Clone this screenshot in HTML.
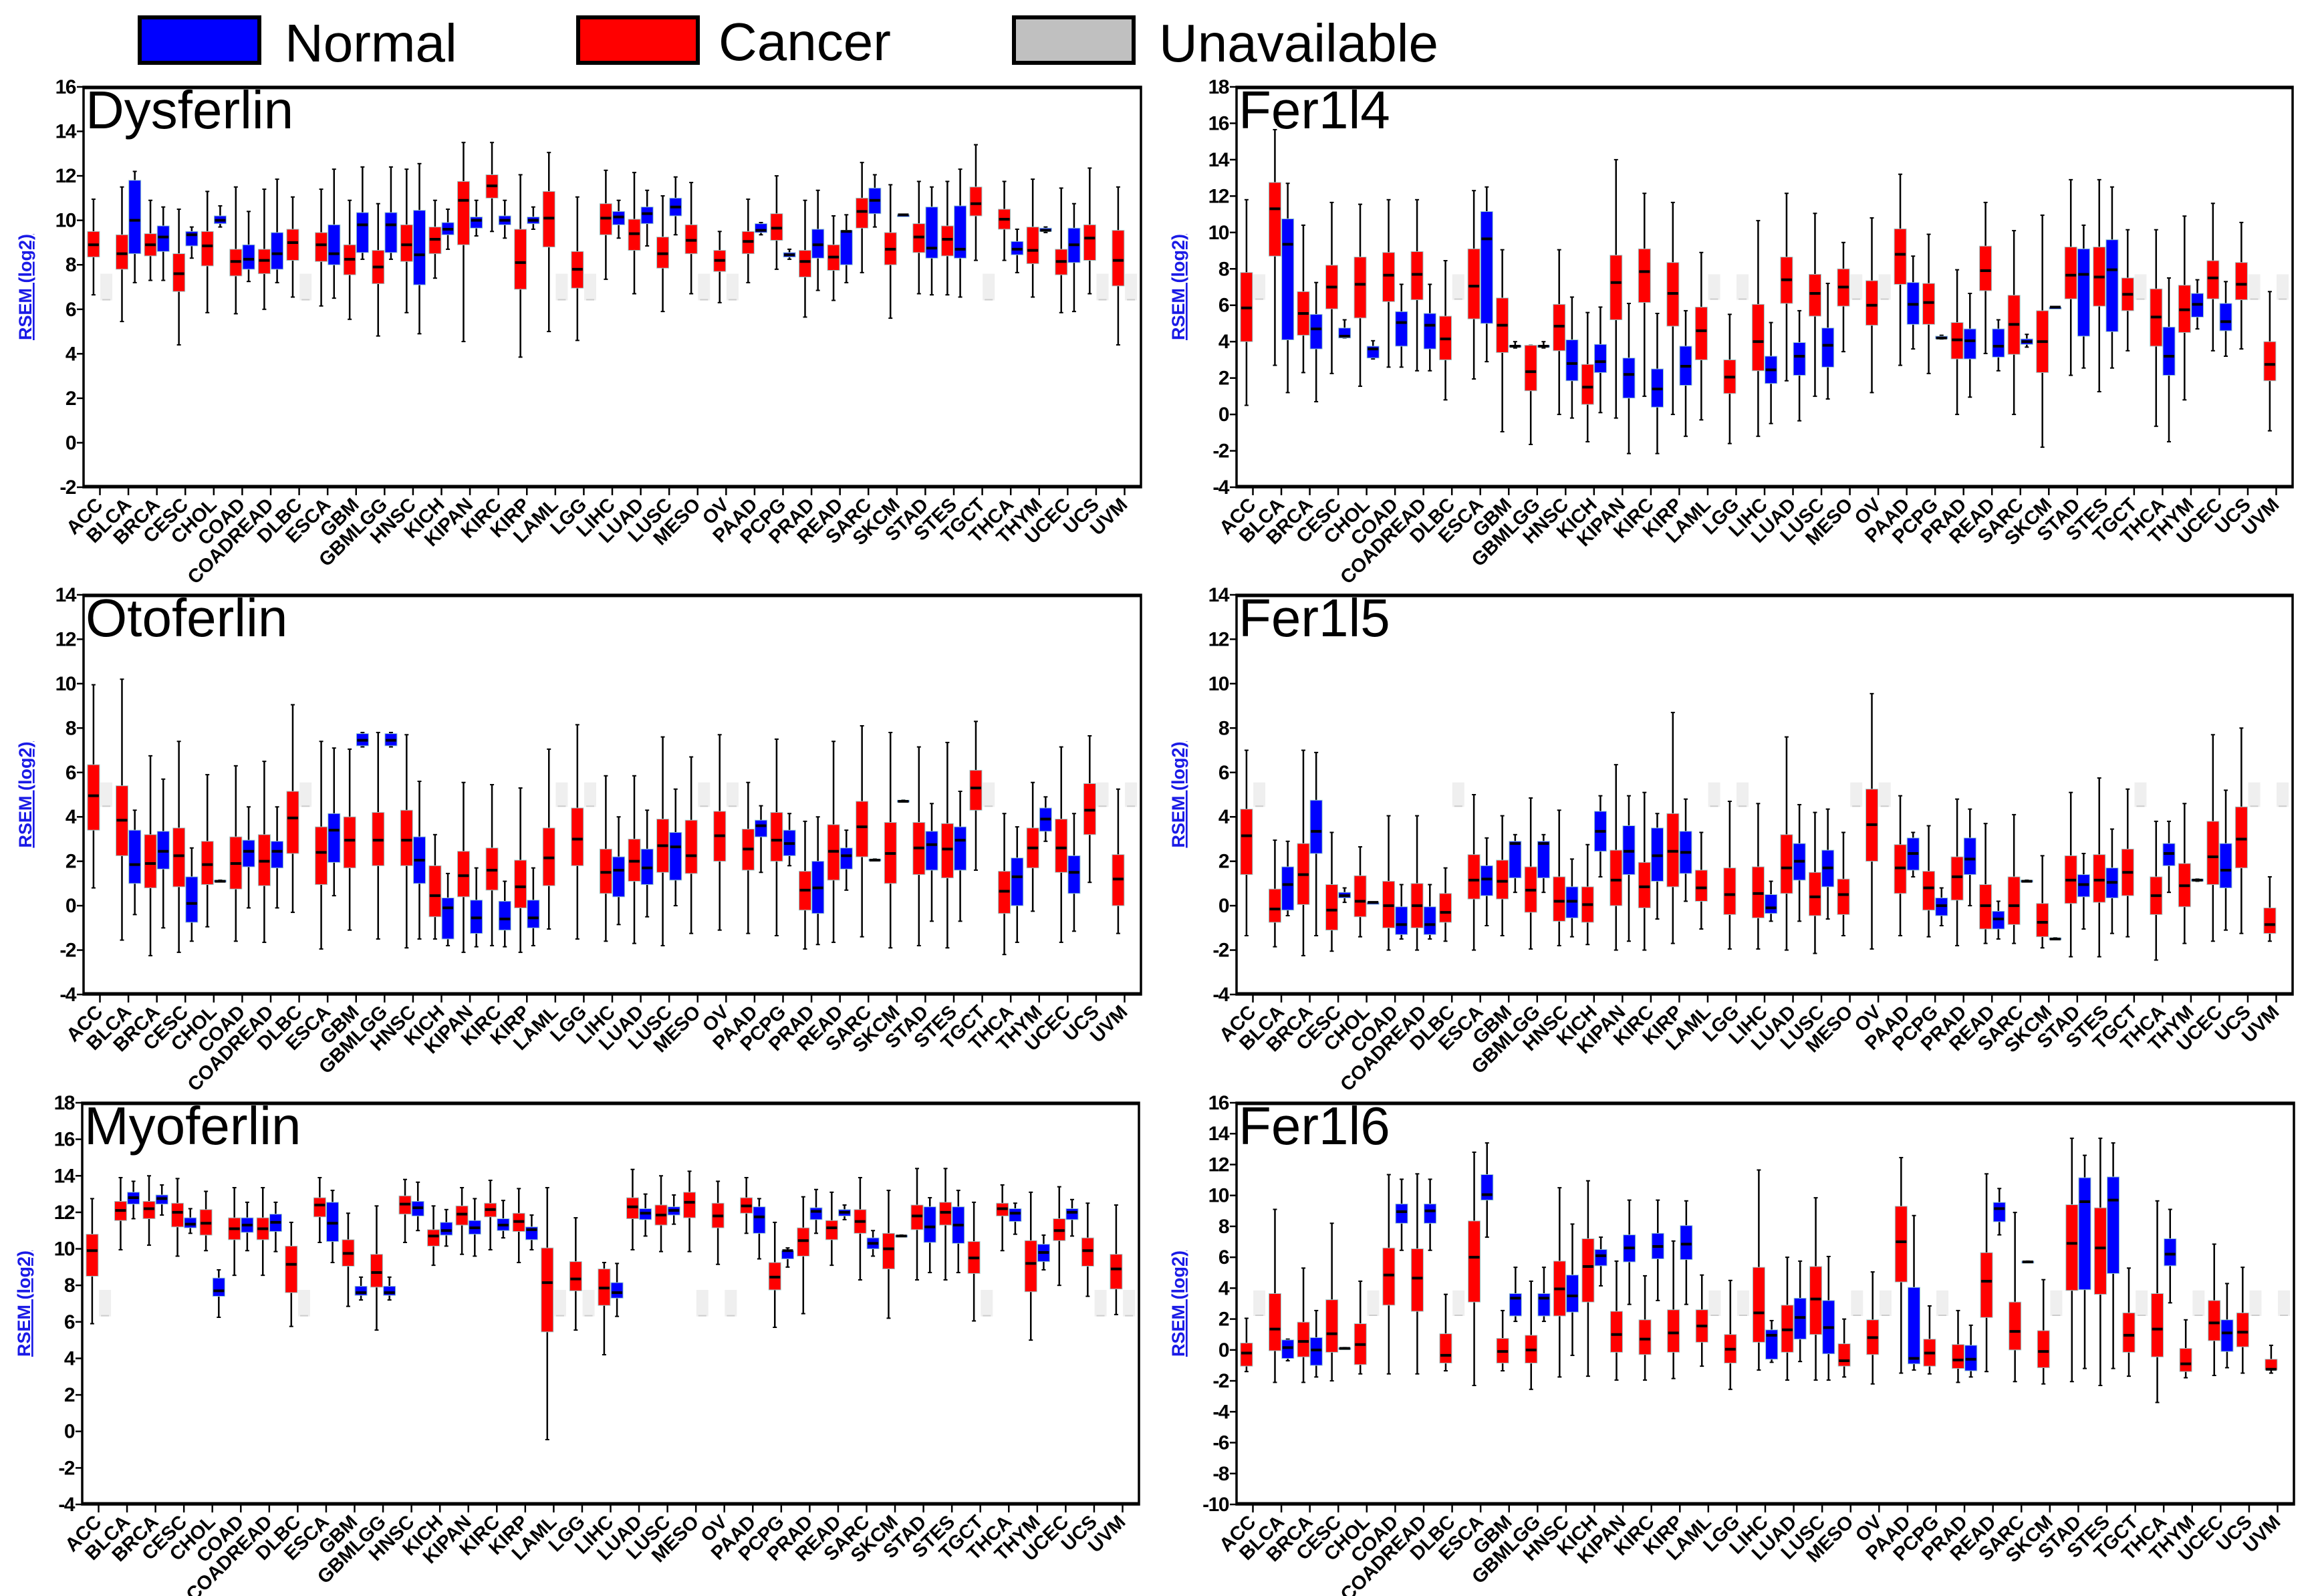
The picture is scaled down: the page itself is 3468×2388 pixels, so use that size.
<!DOCTYPE html>
<html><head><meta charset="utf-8">
<style>
html,body{margin:0;padding:0;background:#fff;}
svg{display:block;}
text{font-family:"Liberation Sans",Arial,sans-serif;}
</style></head>
<body>
<svg id="fig" xmlns="http://www.w3.org/2000/svg" width="3468" height="2388" viewBox="0 0 3468 2388">
  <g>
    <g>
      <rect x="209" y="26" width="179" height="68" fill="#0000ff" stroke="#000" stroke-width="6"/>
      <text x="426" y="92" font-size="80">Normal</text>
    </g>
    <g>
      <rect x="865" y="26" width="179" height="68" fill="#ff0000" stroke="#000" stroke-width="6"/>
      <text x="1075" y="90" font-size="80">Cancer</text>
    </g>
    <g>
      <rect x="1517" y="26" width="179" height="68" fill="#c0c0c0" stroke="#000" stroke-width="6"/>
      <text x="1734" y="92" font-size="80">Unavailable</text>
    </g>
  </g>
</svg>
<script>
const categories = ["ACC","BLCA","BRCA","CESC","CHOL","COAD","COADREAD","DLBC","ESCA","GBM","GBMLGG","HNSC","KICH","KIPAN","KIRC","KIRP","LAML","LGG","LIHC","LUAD","LUSC","MESO","OV","PAAD","PCPG","PRAD","READ","SARC","SKCM","STAD","STES","TGCT","THCA","THYM","UCEC","UCS","UVM"];

// each box: [whiskerLow, q1, median, q3, whiskerHigh]; 0 = unavailable, null = none
const dysferlinCancer = [[6.65,8.35,8.9,9.5,10.95],[5.45,7.8,8.5,9.35,11.5],[7.3,8.4,8.9,9.4,10.9],[4.4,6.8,7.6,8.5,10.5],[5.85,7.95,8.85,9.5,11.3],[5.8,7.5,8.15,8.7,11.5],[6.0,7.6,8.2,8.7,11.4],[6.55,8.2,9.0,9.6,11.05],[6.15,8.15,8.9,9.45,11.4],[5.55,7.55,8.25,8.9,10.9],[4.8,7.15,7.9,8.65,10.75],[5.85,8.15,8.9,9.8,12.3],[7.4,8.5,9.15,9.7,10.9],[4.55,8.9,10.9,11.75,13.5],[9.5,11.0,11.55,12.05,13.5],[3.85,6.9,8.1,9.6,12.05],[5.0,8.8,10.1,11.3,13.05],[4.6,6.95,7.8,8.6,11.05],[7.35,9.35,10.1,10.75,12.25],[6.7,8.65,9.4,10.05,12.15],[5.9,7.85,8.5,9.25,11.1],[6.7,8.5,9.1,9.8,11.7],[6.3,7.7,8.2,8.65,9.5],[7.2,8.5,9.05,9.5,10.95],[7.8,9.1,9.65,10.3,12.0],[5.65,7.45,8.15,8.65,10.9],[6.4,7.75,8.35,8.9,10.2],[7.65,9.65,10.4,11.0,12.6],[5.6,8.0,8.7,9.45,11.6],[6.7,8.55,9.25,9.85,11.75],[6.65,8.4,9.15,9.75,11.75],[8.2,10.2,10.75,11.5,13.4],[8.2,9.6,10.05,10.5,11.75],[6.55,8.05,8.65,9.7,11.85],[5.85,7.55,8.15,8.7,11.45],[6.7,8.2,9.2,9.8,12.35],[4.4,7.05,8.2,9.55,11.5]];
const dysferlinNormal = [0,[7.2,8.5,10.0,11.8,12.2],[7.3,8.6,9.25,9.75,10.6],[8.3,8.85,9.35,9.5,9.7],[9.7,9.85,10.0,10.2,10.65],[7.25,7.8,8.25,8.9,10.4],[7.2,7.8,8.5,9.45,11.85],0,[6.5,8.0,8.5,9.8,12.3],[8.25,8.55,9.8,10.35,12.4],[8.25,8.55,9.8,10.35,12.4],[4.9,7.1,8.45,10.45,12.55],[8.7,9.35,9.6,9.9,10.5],[9.3,9.65,10.0,10.15,10.9],[9.2,9.8,10.0,10.2,10.9],[9.6,9.85,10.0,10.15,10.6],0,0,[9.2,9.8,10.15,10.4,10.9],[8.85,9.85,10.3,10.6,11.35],[9.35,10.2,10.6,11.0,11.95],0,0,[9.35,9.45,9.55,9.85,9.9],[8.25,8.35,8.45,8.55,8.7],[6.85,8.3,8.9,9.6,11.35],[7.2,8.0,9.5,9.55,10.25],[9.7,10.3,10.9,11.45,12.05],[10.25,10.25,10.25,10.25,10.25],[6.65,8.3,8.75,10.6,11.5],[6.55,8.3,8.7,10.65,12.3],0,[7.65,8.45,8.7,9.05,9.6],[9.45,9.5,9.55,9.65,9.7],[5.9,8.1,8.9,9.65,10.75],0,0];

const fer1l4Cancer = [[0.5,4.0,5.85,7.8,11.8],[2.7,8.7,11.3,12.75,15.65],[2.3,4.35,5.55,6.75,10.4],[2.25,5.8,7.0,8.2,11.65],[1.55,5.3,7.15,8.65,11.55],[2.6,6.2,7.65,8.9,11.8],[2.4,6.3,7.7,8.95,11.8],[0.8,3.0,4.15,5.4,8.45],[1.95,5.25,7.05,9.1,12.3],[-0.95,3.4,4.9,6.4,9.05],[-1.65,1.3,2.35,3.8,3.8],[0.0,3.5,4.85,6.05,9.05],[-1.5,0.55,1.5,2.75,5.6],[-0.2,5.2,7.25,8.75,14.0],[1.0,6.15,7.85,9.1,12.15],[0.0,4.85,6.65,8.35,11.65],[-0.3,3.0,4.6,5.9,8.9],[-1.6,1.15,2.05,3.0,5.5],[-1.2,2.4,4.0,6.05,10.65],[1.85,6.1,7.4,8.65,12.15],[1.0,5.4,6.65,7.7,11.05],[3.45,5.95,7.0,8.0,9.45],[1.2,4.9,6.0,7.35,10.8],[2.7,7.15,8.8,10.2,13.2],[2.25,4.95,6.15,7.2,9.9],[0.0,3.05,4.1,5.05,7.95],[3.35,6.8,7.9,9.25,11.65],[0.0,3.3,4.95,6.55,10.1],[-1.8,2.3,4.0,5.7,10.95],[2.15,6.35,7.65,9.2,12.9],[1.25,5.95,7.55,9.2,12.9],[3.5,5.7,6.6,7.5,10.15],[-0.65,3.75,5.35,6.9,10.15],[0.8,4.5,5.75,7.1,10.9],[3.5,6.35,7.5,8.45,11.6],[3.6,6.3,7.15,8.35,10.55],[-0.9,1.85,2.75,4.0,6.75]];
const fer1l4Normal = [0,[1.2,4.1,9.35,10.75,12.7],[0.7,3.6,4.7,5.5,7.25],[4.2,4.2,4.3,4.75,5.2],[3.05,3.1,3.6,3.75,4.05],[2.6,3.75,5.05,5.65,7.15],[2.4,3.6,4.9,5.55,7.15],0,[2.9,5.0,9.65,11.15,12.5],[3.65,3.7,3.75,3.8,4.0],[3.65,3.7,3.75,3.8,4.0],[-0.2,1.85,2.8,4.1,6.45],[0.1,2.3,2.9,3.85,5.9],[-2.15,0.9,2.2,3.1,6.1],[-2.15,0.4,1.4,2.5,5.55],[-1.2,1.6,2.65,3.75,5.7],0,0,[-0.5,1.7,2.45,3.2,5.05],[-0.35,2.15,3.2,3.95,5.7],[0.85,2.6,3.8,4.75,7.2],0,0,[3.6,4.95,6.05,7.25,8.7],[4.15,4.15,4.2,4.3,4.35],[0.95,3.05,4.05,4.7,6.65],[2.4,3.15,3.75,4.7,5.2],[3.7,3.85,4.0,4.15,4.4],[5.9,5.9,5.9,5.9,5.9],[2.55,4.3,7.7,9.1,10.4],[2.55,4.55,7.95,9.6,12.5],0,[-1.5,2.15,3.2,4.8,7.5],[4.7,5.35,6.05,6.65,7.4],[3.2,4.6,5.1,6.1,7.3],0,0];

const otoferlinCancer = [[0.8,3.4,4.95,6.35,9.95],[-1.55,2.25,3.85,5.4,10.2],[-2.25,0.8,1.9,3.2,6.75],[-2.1,0.85,2.25,3.5,7.4],[-0.95,0.95,1.85,2.9,5.9],[-1.6,0.75,1.9,3.1,6.3],[-1.65,0.9,2.0,3.2,6.5],[-0.3,2.35,3.95,5.15,9.05],[-1.95,0.95,2.4,3.55,7.4],[-1.1,1.7,2.95,4.0,7.05],[-1.5,1.8,2.95,4.2,7.8],[-1.9,1.8,2.95,4.3,7.7],[-1.5,-0.5,0.45,1.8,3.2],[-2.1,0.4,1.35,2.45,5.55],[-1.8,0.7,1.6,2.6,5.45],[-2.1,-0.1,0.85,2.05,5.3],[-1.05,0.9,2.15,3.5,7.05],[-1.5,1.8,3.0,4.4,8.15],[-1.6,0.55,1.5,2.55,5.85],[-1.7,1.1,2.0,3.0,5.85],[-1.8,1.5,2.7,3.9,7.6],[-1.25,1.45,2.25,3.85,6.7],[-1.1,2.0,3.15,4.25,7.7],[-1.25,1.6,2.55,3.45,5.55],[-1.35,2.0,2.95,4.2,7.5],[-1.95,-0.2,0.7,1.55,3.8],[-1.65,1.15,2.45,3.65,7.4],[-1.4,2.2,3.55,4.7,8.1],[-1.9,1.0,2.35,3.75,7.8],[-1.8,1.4,2.6,3.75,7.15],[-1.9,1.25,2.55,3.7,7.35],[1.6,4.3,5.3,6.1,8.3],[-2.2,-0.35,0.65,1.55,4.15],[-0.25,1.7,2.6,3.5,5.55],[-1.65,1.5,2.6,3.9,7.15],[1.05,3.2,4.3,5.5,7.65],[-1.25,0.0,1.2,2.3,5.25]];
const otoferlinNormal = [0,[-0.4,1.0,1.85,3.4,4.3],[-1.0,1.65,2.45,3.35,5.7],[-1.6,-0.75,0.1,1.3,2.6],[1.1,1.1,1.1,1.15,1.15],[-0.1,1.75,2.45,2.95,4.45],[-0.1,1.7,2.45,2.9,4.45],0,[0.45,1.95,3.4,4.15,7.1],[7.15,7.2,7.45,7.75,7.8],[7.15,7.2,7.45,7.75,7.8],[-1.5,1.0,2.05,3.1,5.6],[-1.8,-1.5,-0.1,0.35,1.45],[-1.85,-1.25,-0.55,0.25,1.7],[-1.85,-1.1,-0.6,0.2,1.1],[-1.8,-1.0,-0.55,0.25,1.7],0,0,[-0.85,0.4,1.6,2.2,4.0],[-0.5,0.95,1.7,2.55,4.3],[0.0,1.15,2.65,3.3,5.25],0,0,[1.5,3.1,3.6,3.85,4.5],[1.8,2.25,2.8,3.4,4.15],[-1.75,-0.35,0.8,2.0,4.0],[0.7,1.65,2.25,2.6,3.4],[2.05,2.05,2.05,2.1,2.1],[4.7,4.7,4.7,4.75,4.75],[-0.7,1.6,2.75,3.35,4.6],[-0.7,1.6,2.95,3.55,5.15],0,[-1.65,0.0,1.3,2.15,3.55],[2.9,3.35,3.9,4.4,4.9],[-1.15,0.55,1.5,2.25,4.15],0,0];

const fer1l5Cancer = [[-1.35,1.4,3.15,4.35,7.0],[-1.85,-0.75,-0.15,0.75,2.95],[-2.25,0.05,1.4,2.8,7.0],[-2.05,-1.1,-0.2,0.95,3.3],[-1.4,-0.5,0.2,1.35,2.65],[-2.0,-1.0,0.0,1.1,4.05],[-2.0,-1.0,0.0,1.0,4.05],[-1.6,-0.75,-0.3,0.55,1.7],[-2.0,0.3,1.15,2.3,5.0],[-1.35,0.3,1.1,2.05,4.05],[-1.95,-0.3,0.7,1.75,4.85],[-1.8,-0.7,0.2,1.3,4.3],[-1.75,-0.75,0.05,0.85,2.75],[-2.0,0.0,1.15,2.5,6.35],[-2.0,-0.1,0.85,1.95,5.1],[-1.7,0.85,2.45,4.15,8.7],[-1.05,0.2,0.8,1.6,3.3],[-1.95,-0.4,0.5,1.7,4.7],[-1.95,-0.55,0.55,1.75,4.6],[-2.0,0.55,1.7,3.2,7.6],[-2.15,-0.45,0.4,1.5,4.2],[-1.35,-0.4,0.5,1.2,3.3],[-1.95,2.0,3.65,5.25,9.55],[-1.35,0.55,1.7,2.75,4.95],[-1.4,-0.2,0.8,1.55,3.6],[-1.8,0.25,1.3,2.2,4.8],[-1.7,-1.05,0.0,0.95,3.7],[-1.7,-0.85,0.0,1.3,4.1],[-1.9,-1.4,-0.75,0.1,2.25],[-2.3,0.1,1.15,2.25,5.1],[-2.3,0.15,1.15,2.3,5.75],[-1.4,0.45,1.5,2.55,5.25],[-2.45,-0.4,0.45,1.3,3.8],[-1.7,-0.05,0.9,1.9,4.6],[-1.6,0.95,2.2,3.8,7.7],[-1.25,1.7,3.0,4.45,8.0],[-1.6,-1.25,-0.85,-0.1,1.3]];
const fer1l5Normal = [0,[-0.45,-0.2,0.95,1.75,2.9],[-1.35,2.35,3.35,4.75,6.9],[0.15,0.35,0.45,0.6,0.8],[0.15,0.15,0.15,0.15,0.15],[-1.5,-1.3,-0.85,-0.05,0.95],[-1.5,-1.3,-0.85,-0.05,0.95],0,[-0.9,0.45,1.2,1.8,3.05],[0.6,1.25,2.8,2.9,3.2],[0.6,1.25,2.8,2.9,3.2],[-1.4,-0.55,0.2,0.85,2.1],[1.3,2.45,3.35,4.25,4.95],[-1.6,1.4,2.45,3.6,4.95],[-0.6,1.1,2.25,3.5,4.15],[0.2,1.45,2.4,3.35,4.8],0,0,[-0.7,-0.35,-0.1,0.5,1.1],[-0.7,1.15,2.0,2.8,4.55],[-0.6,0.85,1.7,2.5,4.35],0,0,[1.3,1.6,2.35,3.05,3.3],[-0.9,-0.45,0.0,0.35,0.8],[0.0,1.4,2.1,3.05,4.35],[-1.5,-1.05,-0.6,-0.25,0.2],[1.1,1.1,1.1,1.15,1.15],[-1.5,-1.5,-1.5,-1.45,-1.45],[-1.05,0.4,0.95,1.4,2.35],[-1.25,0.35,1.05,1.7,3.45],0,[0.6,1.8,2.35,2.8,3.8],[1.1,1.1,1.15,1.2,1.2],[-1.1,0.8,1.6,2.8,5.2],0,0];

const myoferlinCancer = [[5.9,8.5,9.9,10.8,12.75],[9.95,11.55,12.1,12.6,13.9],[10.2,11.65,12.2,12.6,14.0],[9.6,11.2,12.0,12.5,13.85],[9.9,10.75,11.4,12.15,13.15],[8.55,10.5,11.1,11.7,13.35],[8.55,10.5,11.1,11.7,13.35],[5.75,7.6,9.15,10.15,11.45],[10.35,11.75,12.4,12.8,13.9],[6.85,9.05,9.75,10.5,11.95],[5.55,7.9,8.7,9.7,12.35],[10.35,11.9,12.45,12.9,13.8],[9.1,10.15,10.7,11.05,12.35],[9.7,11.3,11.9,12.35,13.35],[9.95,11.75,12.15,12.5,13.75],[9.25,10.95,11.5,11.95,13.3],[-0.45,5.45,8.15,10.05,13.35],[5.55,7.7,8.35,9.3,11.7],[4.2,6.9,7.85,8.9,9.25],[9.95,11.65,12.3,12.8,14.35],[9.85,11.3,11.85,12.4,14.0],[9.85,11.7,12.55,13.1,14.25],[9.15,11.15,11.8,12.5,13.7],[10.85,11.95,12.35,12.8,13.9],[5.7,7.75,8.45,9.25,11.45],[6.45,9.6,10.45,11.15,12.85],[9.1,10.5,11.15,11.55,13.1],[8.3,10.85,11.5,12.15,13.9],[6.2,8.9,10.0,10.85,13.2],[8.3,11.05,11.8,12.4,14.4],[8.3,11.3,12.0,12.55,14.4],[6.05,8.65,9.5,10.4,12.55],[9.9,11.8,12.2,12.5,13.5],[5.0,7.65,9.2,10.45,13.1],[8.0,10.45,11.0,11.65,13.4],[7.4,9.05,9.9,10.6,12.5],[6.4,7.8,8.9,9.7,12.4]];
const myoferlinNormal = [0,[11.65,12.45,12.8,13.1,13.7],[11.85,12.45,12.75,12.95,13.5],[10.85,11.15,11.35,11.7,12.2],[6.25,7.4,7.7,8.4,8.85],[9.9,10.9,11.3,11.7,12.55],[9.85,10.95,11.45,11.9,12.55],0,[9.25,10.4,11.4,12.55,13.2],[7.2,7.45,7.6,7.95,8.45],[7.2,7.45,7.6,7.95,8.45],[11.0,11.8,12.25,12.6,13.65],[10.15,10.75,11.0,11.45,12.15],[9.6,10.8,11.15,11.55,12.75],[10.6,11.0,11.3,11.65,12.65],[9.95,10.5,11.05,11.2,11.85],0,0,[6.3,7.3,7.6,8.15,9.2],[10.7,11.6,11.95,12.2,13.0],[11.35,11.85,12.1,12.3,12.95],0,0,[9.45,10.85,11.75,12.3,12.75],[9.0,9.45,9.9,9.9,10.05],[10.85,11.6,12.05,12.25,13.25],[11.6,11.8,12.0,12.15,12.4],[9.6,10.0,10.3,10.6,11.0],[10.7,10.7,10.7,10.75,10.75],[8.7,10.35,11.2,12.3,12.8],[8.7,10.3,11.3,12.3,13.2],0,[10.8,11.5,11.95,12.2,12.5],[8.85,9.3,9.8,10.25,10.75],[10.7,11.6,12.0,12.2,12.7],0,0];

const fer1l6Cancer = [[-1.4,-1.05,-0.2,0.45,2.05],[-2.1,-0.05,1.35,3.65,9.1],[-2.1,-0.45,0.55,1.8,5.3],[-2.0,-0.15,1.05,3.25,8.2],[-1.55,-0.95,0.35,1.7,4.45],[-1.55,2.9,4.85,6.6,11.35],[-1.55,2.5,4.65,6.55,11.4],[-1.35,-0.85,-0.35,1.05,3.6],[-2.3,3.1,6.0,8.35,12.8],[-1.35,-0.85,-0.1,0.75,2.55],[-2.55,-0.85,0.0,0.95,4.45],[-1.75,2.2,3.95,5.75,10.5],[-1.7,3.1,5.4,7.2,10.95],[-1.95,-0.15,1.0,2.5,5.75],[-1.95,-0.3,0.7,1.95,4.8],[-1.85,-0.15,1.1,2.6,7.05],[-1.05,0.5,1.55,2.6,4.85],[-2.55,-0.85,0.05,1.0,4.5],[-1.3,0.5,2.4,5.35,11.65],[-1.95,-0.15,1.3,2.9,6.0],[-1.95,1.0,3.3,5.4,9.85],[-1.75,-1.05,-0.7,0.4,2.0],[-2.2,-0.3,0.8,1.95,5.05],[-1.5,4.4,7.0,9.3,12.45],[-1.55,-1.05,-0.2,0.7,2.85],[-2.1,-1.2,-0.65,0.35,2.55],[-1.4,2.1,4.45,6.3,11.4],[-2.05,0.0,1.2,3.1,8.9],[-2.2,-1.15,-0.1,1.25,4.55],[-2.05,3.85,6.9,9.4,13.7],[-2.3,3.6,6.6,9.2,13.7],[-1.7,-0.15,0.95,2.4,5.3],[-3.4,-0.45,1.35,3.65,9.65],[-1.8,-1.4,-0.9,0.1,1.95],[-1.65,0.6,1.75,3.2,6.85],[-1.5,0.2,1.15,2.4,5.35],[-1.5,-1.3,-1.25,-0.6,0.3]];
const fer1l6Normal = [0,[-0.7,-0.55,0.15,0.65,0.7],[-1.75,-1.0,0.0,0.8,2.55],[0.1,0.1,0.1,0.15,0.15],0,[6.45,8.2,8.95,9.45,11.05],[6.45,8.2,9.0,9.45,11.05],0,[7.3,9.7,10.05,11.35,13.4],[1.85,2.2,3.35,3.65,5.35],[1.85,2.2,3.35,3.65,5.35],[-0.35,2.45,3.5,4.85,8.15],[4.15,5.45,6.1,6.5,7.3],[2.95,5.7,6.6,7.45,9.7],[3.2,5.9,6.7,7.55,9.7],[2.95,5.85,6.85,8.05,9.65],0,0,[-0.8,-0.6,0.95,1.3,1.9],[-0.75,0.7,2.1,3.35,5.75],[-1.95,-0.25,1.45,3.2,6.05],0,0,[-1.3,-0.9,-0.55,4.05,8.7],0,[-1.75,-1.35,-0.6,0.3,1.6],[7.45,8.3,9.15,9.55,10.45],[5.7,5.7,5.7,5.75,5.75],0,[-1.2,3.9,9.6,11.15,12.6],[-1.2,4.95,9.7,11.2,13.4],0,[3.05,5.45,6.2,7.2,9.1],0,[-1.15,-0.1,1.1,1.95,4.3],0,0];

const panelTitles = ["Dysferlin","Fer1l4","Otoferlin","Fer1l5","Myoferlin","Fer1l6"];
const panelYMin = [-2,-4,-4,-4,-4,-10];
const panelYMax = [16,18,14,14,18,16];
const unavailableBand = [[6.4,7.6],[6.3,7.7],[4.45,5.55],[4.45,5.55],[6.3,7.75],[2.2,3.85]];
const panelCancer = [dysferlinCancer,fer1l4Cancer,otoferlinCancer,fer1l5Cancer,myoferlinCancer,fer1l6Cancer];
const panelNormal = [dysferlinNormal,fer1l4Normal,otoferlinNormal,fer1l5Normal,myoferlinNormal,fer1l6Normal];

// layout (pixels)
const frames = [
  {l:125,r:1707,t:130,b:729},{l:1850,r:3430,t:130,b:729},
  {l:125,r:1707,t:890,b:1488},{l:1850,r:3430,t:890,b:1488},
  {l:123,r:1704,t:1650,b:2251},{l:1850,r:3432,t:1650,b:2251}
];

const NS = "http://www.w3.org/2000/svg";
const svg = document.getElementById("fig");
function mk(tag, attrs, parent){
  const e = document.createElementNS(NS, tag);
  for (const k in attrs) e.setAttribute(k, attrs[k]);
  parent.appendChild(e);
  return e;
}

panelTitles.forEach((title, p) => {
  const f = frames[p];
  const g = mk("g", {}, svg);
  
  
  const yMin = panelYMin[p], yMax = panelYMax[p];
  const y = v => f.b - (v - yMin) / (yMax - yMin) * (f.b - f.t);
  const x0 = f.l + 24.5, step = (f.r - f.l - 49) / (categories.length - 1);
  const xc = i => x0 + i * step;
  const BW = 18, OFF = 9.6;

  // frame
  const frame = mk("rect", {x:f.l, y:f.t, width:f.r-f.l, height:f.b-f.t, fill:"#fff", stroke:"#000", "stroke-width":3.5}, g);
  
  
  mk("line", {x1:f.l, x2:f.r, y1:f.t+1, y2:f.t+1, stroke:"#000", "stroke-width":5}, g);
  mk("line", {x1:f.l, x2:f.r, y1:f.b-1, y2:f.b-1, stroke:"#000", "stroke-width":5}, g);

  // y ticks
  const yAxis = mk("g", {}, g);
  
  
  for (let v = yMin; v <= yMax; v += 2) {
    mk("line", {x1:f.l-10, x2:f.l, y1:y(v), y2:y(v), stroke:"#000", "stroke-width":2.5}, yAxis);
    const t = mk("text", {x:f.l-12, y:y(v)+10, "font-size":30, "font-weight":"bold", "text-anchor":"end", "letter-spacing":"-1.5"}, yAxis);
    t.textContent = String(v);
    
    
  }
  const yt = mk("text", {x:0, y:0, "font-size":27, "font-weight":"bold", fill:"#1a1ae6", "text-anchor":"middle", "text-decoration":"underline", transform:`translate(${f.l-78},${(f.t+f.b)/2}) rotate(-90)`}, g);
  yt.textContent = "RSEM (log2)";
  
  

  // x ticks & labels
  const xAxis = mk("g", {}, g);
  
  
  categories.forEach((c, i) => {
    mk("line", {x1:xc(i), x2:xc(i), y1:f.b, y2:f.b+12, stroke:"#000", "stroke-width":2.5}, xAxis);
    const t = mk("text", {x:0, y:0, "font-size":29, "font-weight":"bold", "text-anchor":"end", transform:`translate(${xc(i)+6},${f.b+28}) rotate(-45)`}, xAxis);
    t.textContent = c;
    
    
  });

  // title
  const tt = mk("text", {x:f.l+3, y:f.t+62, "font-size":80}, g);
  tt.textContent = title;
  
  

  function drawBox(b, cx, color, name){
    const bg = mk("g", {}, g);
    
    
    const [lo, q1, md, q3, hi] = b;
    mk("line", {x1:cx, x2:cx, y1:y(hi), y2:y(lo), stroke:"#000", "stroke-width":2.5}, bg);
    mk("line", {x1:cx-3, x2:cx+3, y1:y(hi), y2:y(hi), stroke:"#000", "stroke-width":2}, bg);
    mk("line", {x1:cx-3, x2:cx+3, y1:y(lo), y2:y(lo), stroke:"#000", "stroke-width":2}, bg);
    const h = Math.max(y(q1) - y(q3), 3);
    mk("rect", {x:cx-BW/2, y:y(q3), width:BW, height:h, fill:color, stroke:"#9cc", "stroke-width":1}, bg);
    mk("line", {x1:cx-BW/2+1, x2:cx+BW/2-1, y1:y(md), y2:y(md), stroke:"#000", "stroke-width":4}, bg);
  }

  const band = unavailableBand[p];
  categories.forEach((c, i) => {
    const cb = panelCancer[p][i];
    if (cb) drawBox(cb, xc(i) - OFF, "#ff0000", "box-cancer-" + c.toLowerCase());
    const nb = panelNormal[p][i];
    if (nb === 0) {
      const ug = mk("g", {}, g);
      
      
      mk("rect", {x:xc(i)+OFF-BW/2, y:y(band[1]), width:BW, height:y(band[0])-y(band[1]), fill:"#efefef"}, ug);
      mk("line", {x1:xc(i)+OFF-6, x2:xc(i)+OFF+6, y1:y(band[0])-1, y2:y(band[0])-1, stroke:"#ccc", "stroke-width":2}, ug);
    } else if (nb) {
      drawBox(nb, xc(i) + OFF, "#0000ff", "box-normal-" + c.toLowerCase());
    }
  });
});
</script>
</body></html>
